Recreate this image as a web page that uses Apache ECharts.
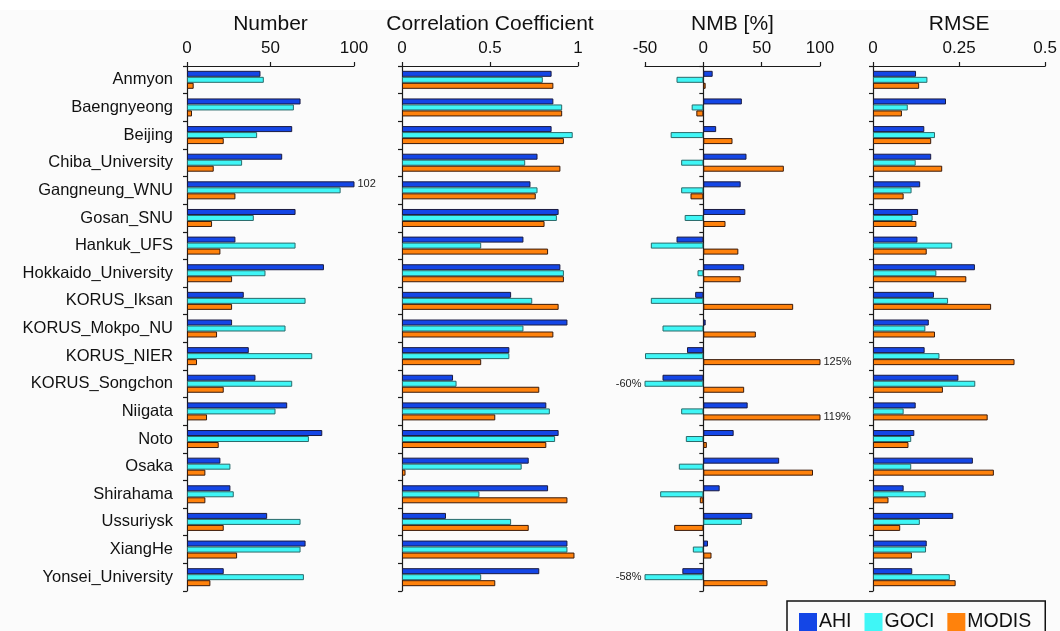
<!DOCTYPE html>
<html>
<head>
<meta charset="utf-8">
<script src="https://cdn.jsdelivr.net/npm/echarts@6/dist/echarts.min.js"></script>
<style>
  html, body { margin: 0; padding: 0; background: #fbfbfb; }
  #chart { width: 1060px; height: 631px; }
</style>
</head>
<body>
<div id="chart"></div>
<script>
// AERONET sites
const categories = [
  'Anmyon', 'Baengnyeong', 'Beijing', 'Chiba_University', 'Gangneung_WNU',
  'Gosan_SNU', 'Hankuk_UFS', 'Hokkaido_University', 'KORUS_Iksan', 'KORUS_Mokpo_NU',
  'KORUS_NIER', 'KORUS_Songchon', 'Niigata', 'Noto', 'Osaka',
  'Shirahama', 'Ussuriysk', 'XiangHe', 'Yonsei_University'
];

// Number of collocated matchups
const numberAHI   = [44, 68, 63, 57, 102, 65, 29, 82, 34, 27, 37, 41, 60, 81, 20, 26, 48, 71, 22];
const numberGOCI  = [46, 64, 42, 33, 92, 40, 65, 47, 71, 59, 75, 63, 53, 73, 26, 28, 68, 68, 70];
const numberMODIS = [4, 3, 22, 16, 29, 15, 20, 27, 27, 18, 6, 22, 12, 19, 11, 11, 22, 30, 14];

// Correlation coefficient
const corrAHI   = [0.85, 0.86, 0.85, 0.77, 0.73, 0.89, 0.69, 0.90, 0.62, 0.94, 0.61, 0.29, 0.82, 0.89, 0.72, 0.83, 0.25, 0.94, 0.78];
const corrGOCI  = [0.80, 0.91, 0.97, 0.70, 0.77, 0.88, 0.45, 0.92, 0.74, 0.69, 0.61, 0.31, 0.84, 0.87, 0.68, 0.44, 0.62, 0.94, 0.45];
const corrMODIS = [0.86, 0.91, 0.92, 0.90, 0.76, 0.81, 0.83, 0.92, 0.89, 0.86, 0.45, 0.78, 0.53, 0.82, 0.02, 0.94, 0.72, 0.98, 0.53];

// Normalized mean bias [%]
const nmbAHI   = [8, 33, 11, 37, 32, 36, -23, 35, -7, 2, -14, -35, 38, 26, 65, 14, 42, 4, -18];
const nmbGOCI  = [-23, -10, -28, -19, -19, -16, -45, -5, -45, -35, -50, -60, -19, -15, -21, -37, 33, -9, -58];
const nmbMODIS = [2, -6, 25, 69, -11, 19, 30, 32, 77, 45, 125, 35, 119, 3, 94, -3, -25, 7, 55];

// Root mean square error
const rmseAHI   = [0.125, 0.212, 0.149, 0.169, 0.137, 0.131, 0.129, 0.296, 0.177, 0.162, 0.150, 0.248, 0.124, 0.120, 0.290, 0.089, 0.233, 0.156, 0.114];
const rmseGOCI  = [0.158, 0.101, 0.180, 0.124, 0.112, 0.115, 0.230, 0.184, 0.218, 0.152, 0.193, 0.297, 0.089, 0.111, 0.111, 0.153, 0.136, 0.154, 0.223];
const rmseMODIS = [0.134, 0.084, 0.169, 0.201, 0.089, 0.126, 0.156, 0.271, 0.343, 0.180, 0.411, 0.203, 0.333, 0.103, 0.351, 0.045, 0.079, 0.113, 0.240];

// Axis ranges: [min, max, interval]
const numberRange = [0, 100, 50];
const corrRange   = [0, 1, 0.5];
const nmbRange    = [-50, 100, 50];
const rmseRange   = [0, 0.5, 0.25];

const sensorNames = ['AHI', 'GOCI', 'MODIS'];
const sensorColors = ['#1446e6', '#3ff6f6', '#ff820c'];
const sensorBorders = ['#1a1a40', '#2a6a6a', '#3a1a0a'];

const ink = '#111';
const fontFamily = '"Liberation Sans", Arial, Helvetica, sans-serif';

const panels = [
  { title: 'Number', left: 187, width: 167, range: numberRange, series: [numberAHI, numberGOCI, numberMODIS], suffix: '' },
  { title: 'Correlation Coefficient', left: 402, width: 176, range: corrRange, series: [corrAHI, corrGOCI, corrMODIS], suffix: '' },
  { title: 'NMB [%]', left: 645, width: 175, range: nmbRange, series: [nmbAHI, nmbGOCI, nmbMODIS], suffix: '%' },
  { title: 'RMSE', left: 873, width: 175, range: rmseRange, series: [rmseAHI, rmseGOCI, rmseMODIS], suffix: '' }
];

const grid = [], xAxis = [], yAxis = [], series = [];
const axisLineStyle = { color: '#1a1a1a', width: 1.2 };

panels.forEach((p, i) => {
  const [min, max, interval] = p.range;
  grid.push({ left: p.left, width: p.width, top: 66, height: 525, containLabel: false });
  xAxis.push({
    gridIndex: i, type: 'value', position: 'top', min, max, interval,
    name: p.title, nameLocation: 'middle', nameGap: 31,
    nameTextStyle: { fontSize: 21, color: ink, fontFamily },
    axisLine: { show: true, onZero: false, lineStyle: axisLineStyle },
    axisTick: { show: true, length: 4, lineStyle: axisLineStyle },
    axisLabel: { fontSize: 17, color: ink, margin: 9, fontFamily },
    splitLine: { show: false }
  });
  yAxis.push({
    gridIndex: i, type: 'category', data: categories, inverse: true,
    axisLine: { show: true, onZero: true, lineStyle: axisLineStyle },
    axisTick: { show: true, length: 4, lineStyle: axisLineStyle },
    axisLabel: { show: i === 0, fontSize: 16.5, color: ink, margin: 14, fontFamily, padding: [5, 0, 0, 0] },
    splitLine: { show: false }
  });
  p.series.forEach((vals, k) => {
    // values beyond the axis range are clipped and annotated with their value
    const data = vals.map(v => {
      if (v > max || v < min) {
        return {
          value: v,
          label: {
            show: true,
            position: v > max ? 'right' : 'left',
            distance: 3,
            fontSize: 11, color: '#222', fontFamily,
            formatter: () => v + p.suffix
          }
        };
      }
      return v;
    });
    series.push({
      type: 'bar', name: sensorNames[k], xAxisIndex: i, yAxisIndex: i,
      data, barWidth: 6, barGap: '0%', clip: true,
      itemStyle: { color: sensorColors[k], borderColor: sensorBorders[k], borderWidth: 1 },
      emphasis: { disabled: true },
      animation: false
    });
  });
});

const chart = echarts.init(document.getElementById('chart'), null, { renderer: 'canvas' });
chart.setOption({
  backgroundColor: '#fbfbfb',
  animation: false,
  textStyle: { fontFamily },
  graphic: [{ type: 'rect', left: 0, top: 0, shape: { width: 1060, height: 10 }, style: { fill: '#ffffff' }, silent: true, z: -1 }],
  legend: {
    data: sensorNames, left: 787, top: 601, orient: 'horizontal',
    itemWidth: 18, itemHeight: 18, itemGap: 13, icon: 'rect',
    itemStyle: { borderWidth: 0 },
    textStyle: { fontSize: 19.5, color: ink, fontFamily, padding: [0, 0, 0, -3] },
    borderColor: '#111', borderWidth: 1.5, padding: [11, 14, 14, 12],
    selectedMode: false
  },
  grid, xAxis, yAxis, series
});
</script>
</body>
</html>
